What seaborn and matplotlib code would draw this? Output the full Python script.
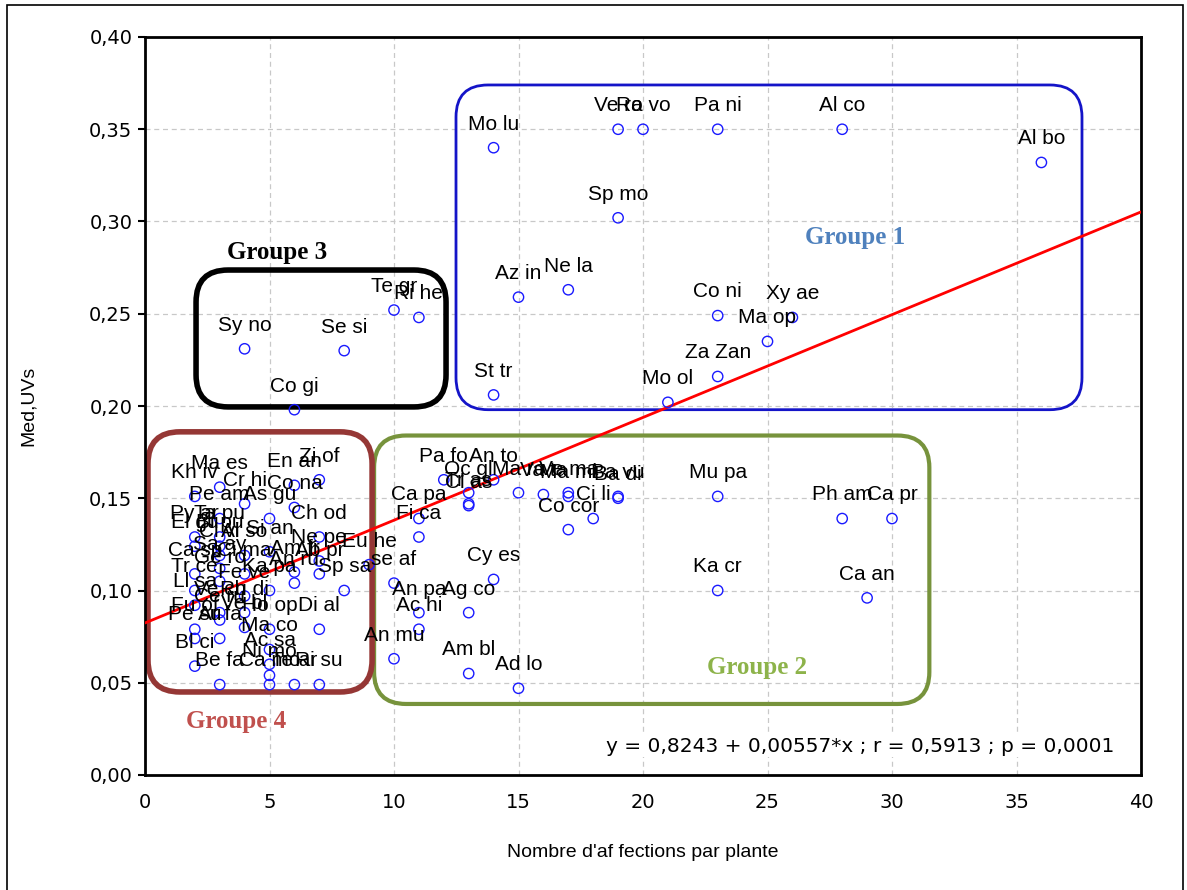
import numpy as np
import pandas as pd
import matplotlib
matplotlib.use("Agg")
import matplotlib.pyplot as plt
import seaborn as sns
from matplotlib.patches import FancyBboxPatch, Rectangle
from matplotlib.ticker import FuncFormatter, MultipleLocator

# ---------------- data ----------------
g1_labels = ["Mo lu", "Ve ra", "Ro vo", "Pa ni", "Al co", "Al bo", "Sp mo", "Az in", "Ne la",
             "Co ni", "Xy ae", "Ma op", "Za Zan", "St tr", "Mo ol"]
g1_x = [14, 19, 20, 23, 28, 36, 19, 15, 17, 23, 26, 25, 23, 14, 21]
g1_y = [0.340, 0.350, 0.350, 0.350, 0.350, 0.332, 0.302, 0.259, 0.263, 0.249, 0.248, 0.235,
        0.216, 0.206, 0.202]

g3_labels = ["Sy no", "Se si", "Te gr", "Ri he", "Co gi"]
g3_x = [4, 8, 10, 11, 6]
g3_y = [0.231, 0.230, 0.252, 0.248, 0.198]

g2_labels = ["Pa fo", "Oc gl", "Tr as", "Cl as", "An to", "Ma ro", "Va ta", "Ve ma", "Ma mi",
             "Ba vu", "Ba di", "Ci li", "Co cor", "Mu pa", "Ca pa", "Fi ca", "se af", "An pa",
             "Ag co", "Cy es", "Ac hi", "An mu", "Am bl", "Ad lo", "Ka cr", "Ca an", "Ph am",
             "Ca pr"]
g2_x = [12, 13, 13, 13, 14, 15, 16, 17, 17, 19, 19, 18, 17, 23, 11, 11, 10, 11, 13, 14, 11,
        10, 13, 15, 23, 29, 28, 30]
g2_y = [0.160, 0.153, 0.147, 0.146, 0.160, 0.153, 0.152, 0.153, 0.151, 0.151, 0.150, 0.139,
        0.133, 0.151, 0.139, 0.129, 0.104, 0.088, 0.088, 0.106, 0.079, 0.063, 0.055, 0.047,
        0.100, 0.096, 0.139, 0.139]

g4_labels = ["Kh iv", "Ma es", "Cr hi", "Pe am", "As gu", "En an", "Zi of", "Co na", "Ch od",
             "Py ar", "Ta pu", "El gu", "Bi pu", "Al so", "Cl vi", "Ca sp", "Sa ay", "Ci ma",
             "Si an", "Am fr", "Ne pe", "Eu he", "Ab pr", "Sp sa", "Ka pa", "Tr ce", "Ge ro",
             "Ll sa", "Fe ve", "Fu of", "Ve ch", "Ru di", "Pe su", "Di al", "Ve bl", "Ho op",
             "Bl ci", "Ac sa", "Be fa", "Ca mo", "Te ar", "Ri su", "Ar fa", "Ma co", "Ni mo",
             "Ce ru", "An ru"]
g4_x = [2, 3, 4, 3, 5, 6, 7, 6, 7, 2, 3, 2, 3, 4, 3, 2, 3, 4, 5, 6, 7, 9, 7, 8, 5, 2, 3, 2,
        4, 2, 3, 4, 2, 7, 4, 5, 2, 5, 3, 5, 6, 7, 3, 5, 5, 3, 6]
g4_y = [0.151, 0.156, 0.147, 0.139, 0.139, 0.157, 0.160, 0.145, 0.129, 0.129, 0.129, 0.124,
        0.124, 0.119, 0.119, 0.109, 0.112, 0.109, 0.121, 0.110, 0.116, 0.114, 0.109, 0.100,
        0.100, 0.100, 0.105, 0.092, 0.097, 0.079, 0.088, 0.088, 0.074, 0.079, 0.080, 0.079,
        0.059, 0.060, 0.049, 0.049, 0.049, 0.049, 0.074, 0.068, 0.054, 0.084, 0.104]

reg_intercept = 0.0824
reg_slope = 0.00557
equation_text = "y = 0,8243 + 0,00557*x ; r = 0,5913 ; p = 0,0001"

group_names = ["Groupe 1", "Groupe 2", "Groupe 3", "Groupe 4"]

# ---------------- build ----------------
df = pd.DataFrame({
    "label": g1_labels + g3_labels + g2_labels + g4_labels,
    "x": g1_x + g3_x + g2_x + g4_x,
    "y": g1_y + g3_y + g2_y + g4_y,
})

sns.set_theme(style="white")
plt.rcParams["font.family"] = ["Liberation Sans", "DejaVu Sans"]

W, H, DPI = 1187, 890, 100
fig = plt.figure(figsize=(W / DPI, H / DPI), dpi=DPI)
ax = fig.add_axes([145 / W, 1 - 775 / H, (1141 - 145) / W, (775 - 37) / H])

ax.set_xlim(0, 40)
ax.set_ylim(0, 0.40)
ax.xaxis.set_major_locator(MultipleLocator(5))
ax.yaxis.set_major_locator(MultipleLocator(0.05))
ax.grid(True, color="#c8c8c8", linestyle=(0, (4, 3)), linewidth=0.9)
ax.set_axisbelow(True)

# regression line
xl = np.array([0, 40])
sns.lineplot(x=xl, y=reg_intercept + reg_slope * xl, color="#ff0000", linewidth=2, ax=ax,
             zorder=3)

# points
sns.scatterplot(data=df, x="x", y="y", s=55, marker="o", ax=ax, zorder=4, legend=False)
pts = ax.collections[-1]
pts.set_facecolor("none")
pts.set_edgecolor("#1a1aff")
pts.set_linewidth(1.0)

for _, r in df.iterrows():
    ax.annotate(r["label"], (r["x"], r["y"]), xytext=(0, 17), textcoords="offset points",
                ha="center", va="center", fontsize=15, color="black", zorder=5)

# group boxes (rounded)
xpx = (1141 - 145) / 40.0
ypx = (775 - 37) / 0.40
rad_px = 32
boxes = [
    (12.49, 0.198, 37.63 - 12.49, 0.374 - 0.198, "#1414c8", 2.0),
    (9.2, 0.0385, 31.5 - 9.2, 0.184 - 0.0385, "#77933c", 3.0),
    (2.05, 0.1995, 12.09 - 2.05, 0.2737 - 0.1995, "#000000", 4.0),
    (0.12, 0.045, 9.12 - 0.12, 0.186 - 0.045, "#953735", 4.0),
]
for (bx, by, bw, bh, col, lw) in boxes:
    p = FancyBboxPatch((bx, by), bw, bh,
                       boxstyle=f"round,pad=0,rounding_size={rad_px / xpx}",
                       mutation_aspect=xpx / ypx,
                       fill=False, edgecolor=col, linewidth=lw, zorder=2)
    ax.add_patch(p)

gtxt = [
    (group_names[0], 28.5, 0.2915, "#4f81bd"),
    (group_names[1], 24.6, 0.0585, "#8db34a"),
    (group_names[2], 5.3, 0.2830, "#000000"),
    (group_names[3], 3.65, 0.0290, "#c0504d"),
]
for t, gx, gy, col in gtxt:
    ax.text(gx, gy, t, fontsize=18, fontweight="bold", color=col, ha="center", va="center",
            family=["Liberation Serif", "DejaVu Serif"], zorder=6)

ax.text(38.95, 0.0155, equation_text, fontsize=14.5, ha="right", va="center", color="black",
        zorder=6, family=["DejaVu Sans"],
        bbox=dict(facecolor="white", edgecolor="none", pad=1))

# axes style
for s in ax.spines.values():
    s.set_color("black")
    s.set_linewidth(2)
ax.tick_params(axis="y", which="major", direction="out", length=5, width=1.5,
               colors="black", labelsize=14, left=True, pad=4)
ax.tick_params(axis="x", which="major", length=0, colors="black", labelsize=14,
               bottom=True, pad=13)
ax.yaxis.set_major_formatter(FuncFormatter(lambda v, p: f"{v:.2f}".replace(".", ",")))
ax.xaxis.set_major_formatter(FuncFormatter(lambda v, p: f"{v:.0f}"))
ax.set_xlabel("Nombre d'af fections par plante", fontsize=14, labelpad=23, color="black")
ax.set_ylabel("Med,UVs", fontsize=14, labelpad=38, color="black")

# outer frame
fig.patches.append(Rectangle((7 / W, -0.05), (1183 - 7) / W, 1 + 0.05 - 5 / H,
                             transform=fig.transFigure, fill=False, edgecolor="black",
                             linewidth=1.2))

fig.canvas.draw()
for lab in ax.get_xticklabels() + ax.get_yticklabels():
    lab.set_family(["DejaVu Sans"])

fig.savefig("out.png", dpi=DPI)
